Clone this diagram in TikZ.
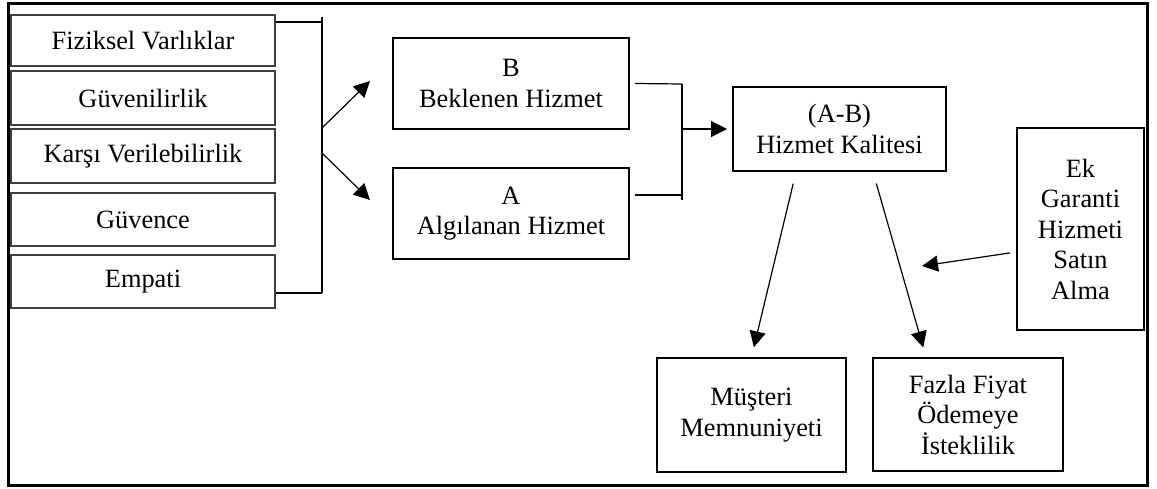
\documentclass[tikz,border=0pt]{standalone}
\usepackage{fontspec}
\setmainfont{Liberation Serif}
\usetikzlibrary{arrows.meta}

\begin{document}
\begin{tikzpicture}[x=1pt, y=-1pt,
    font=\fontsize{26.4}{30.5}\selectfont,
    box/.style={draw, line width=2pt, inner sep=0pt, align=center},
    lbox/.style={box, draw=black!75, minimum width=264pt},
    line/.style={line width=1.2pt},
    arr/.style={line, -{Triangle[length=16pt, width=16pt]}}]
    \useasboundingbox (0,0) rectangle (1157,488);
    % dis cerceve
    \draw[line width=3pt] (8,3) rectangle (1147,485);

    % boyutlar
    \node[lbox, minimum height=51pt] (fiz) at (143,40.5) {Fiziksel Varlıklar};
    \node[lbox, minimum height=54pt] (guv) at (143,98) {Güvenilirlik};
    \node[lbox, minimum height=54pt] (kar) at (143,156) {Karşı Verilebilirlik};
    \node[lbox, minimum height=53pt] (gvc) at (143,219.5) {Güvence};
    \node[lbox, minimum height=53pt] (emp) at (143,281.5) {Empati};

    % beklenen / algilanan
    \node[box, minimum width=236pt, minimum height=91pt] (bek) at (511,83.5) {B\\Beklenen Hizmet};
    \node[box, minimum width=236pt, minimum height=91pt] (alg) at (511,213.5) {A\\Algılanan Hizmet};
    \node[box, minimum width=213pt, minimum height=84pt] (kal) at (839.5,129) {(A-B)\\Hizmet Kalitesi};
    \node[box, minimum width=127pt, minimum height=202pt] (ek) at (1080.5,229) {Ek\\Garanti\\Hizmeti\\Satın\\Alma};
    \node[box, minimum width=189pt, minimum height=114pt] (mus) at (751.5,415) {Müşteri\\Memnuniyeti};
    \node[box, minimum width=190pt, minimum height=113pt] (faz) at (968,414.5) {Fazla Fiyat\\Ödemeye\\İsteklilik};

    % sol parantez
    \coordinate (ja) at (322,22);
    \coordinate (jb) at (322,293);
    \coordinate (jm1) at (322,128);
    \coordinate (jm2) at (322,153);
    \coordinate (tb) at (370,81);
    \coordinate (ta) at (370,200);
    \draw[line] (fiz.east |- ja) -- (ja);
    \draw[line] (emp.east |- jb) -- (jb);
    \draw[line] ([yshift=5pt]ja) -- (jb);
    \draw[arr] (jm1) -- (tb);
    \draw[arr] (jm2) -- (ta);

    % sag parantez
    \coordinate (jc) at (682,84);
    \coordinate (jd) at (682,195);
    \coordinate (jm3) at (682,129);
    \draw[line] (bek.east) ++(5,0) -- (jc);
    \draw[line] (alg.east |- jd) ++(5,0) -- (jd);
    \draw[line] (jc) -- ++(0,116);
    \draw[arr, shorten >=5pt] (jm3) -- (kal.west);

    % sonuclar
    \draw[arr, shorten <=12pt, shorten >=10pt] ([xshift=-43.5pt]kal.south) -- (mus.north);
    \draw[arr, shorten <=12pt, shorten >=10pt] ([xshift=33.5pt]kal.south) -- ([xshift=-42pt]faz.north);
    \coordinate (tek) at (922,266);
    \draw[arr, shorten <=6pt] ([yshift=-23pt]ek.west) -- (tek);
\end{tikzpicture}
\end{document}
